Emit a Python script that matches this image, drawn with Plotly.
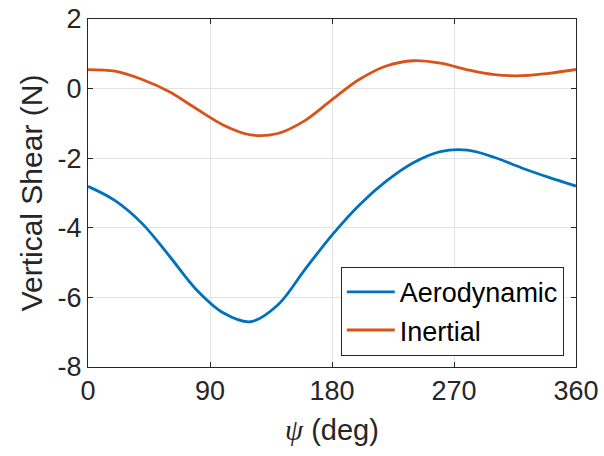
import plotly.graph_objects as go

# Azimuth (deg) and vertical shear (N), every 20 deg
psi = [0, 20, 40, 60, 80, 100, 120, 140, 160, 180, 200, 220, 240, 260, 280, 300, 320, 340, 360]
aero = [-2.81, -3.22, -3.88, -4.81, -5.78, -6.45, -6.70, -6.22, -5.20, -4.21, -3.35, -2.66, -2.13,
        -1.81, -1.77, -1.98, -2.28, -2.55, -2.80]
inert = [0.546, 0.50, 0.26, -0.09, -0.58, -1.05, -1.33, -1.29, -0.92, -0.32, 0.26, 0.65, 0.80,
         0.73, 0.54, 0.40, 0.37, 0.44, 0.55]

x_ticks = [0, 90, 180, 270, 360]
y_ticks = [-8, -6, -4, -2, 0, 2]

FONT = "Liberation Sans, Arial, Helvetica, sans-serif"

fig = go.Figure()
fig.add_trace(go.Scatter(x=psi, y=aero, mode="lines", name="Aerodynamic",
                         line=dict(color="#0072BD", width=2.8, shape="spline", smoothing=1.0)))
fig.add_trace(go.Scatter(x=psi, y=inert, mode="lines", name="Inertial",
                         line=dict(color="#D95319", width=2.8, shape="spline", smoothing=1.0)))

axis_common = dict(showline=True, linecolor="#262626", linewidth=1, mirror="ticks",
                   ticks="inside", ticklen=5, tickcolor="#262626", automargin=False,
                   showgrid=True, gridcolor="#e3e3e3", gridwidth=1, zeroline=False,
                   tickfont=dict(family=FONT, size=27, color="#262626"))

fig.update_layout(
    width=604, height=456,
    margin=dict(l=88, r=28, t=19, b=89),
    paper_bgcolor="white", plot_bgcolor="white",
    font=dict(family=FONT, color="#262626"),
    xaxis=dict(range=[0, 360], tickvals=x_ticks, ticktext=[str(v) for v in x_ticks],
               title=dict(text="<span style=\"font-family:'Liberation Serif',serif;font-style:italic\">ψ</span> (deg)",
                          font=dict(family=FONT, size=29, color="#262626"), standoff=14),
               **axis_common),
    yaxis=dict(range=[-8, 2], tickvals=y_ticks, ticktext=[str(v) for v in y_ticks],
               title=dict(text="Vertical Shear (N)", font=dict(family=FONT, size=30, color="#262626"), standoff=6),
               **axis_common),
    legend=dict(x=0.975, y=0.032, xanchor="right", yanchor="bottom",
                bgcolor="white", bordercolor="#262626", borderwidth=1,
                font=dict(family=FONT, size=27, color="black"),
                itemwidth=48, tracegroupgap=0),
    showlegend=True,
)

fig.write_html("out.html")
